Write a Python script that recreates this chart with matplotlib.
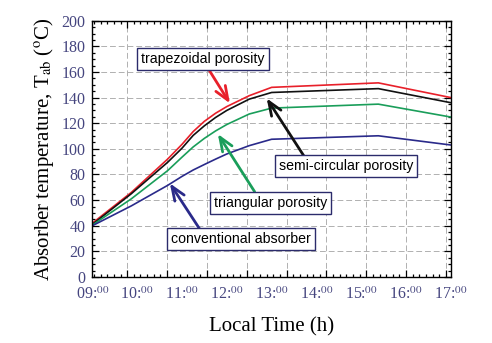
import numpy as np
import matplotlib
matplotlib.use("Agg")
import matplotlib.pyplot as plt
from matplotlib.ticker import MultipleLocator

plt.rcParams['font.family'] = ['Liberation Serif', 'DejaVu Serif']
plt.rcParams['mathtext.fontset'] = 'stix'

# time (h) and absorber temperature (degC)
hours = [9.0, 9.87, 10.68, 11.0, 11.25, 11.5, 11.75, 12.0, 12.5, 13.0, 15.38, 17.0]
trapezoidal = [42, 66, 92, 103.5, 113.5, 121.5, 127.8, 133, 141.5, 148, 151.5, 140]
semicircular = [41, 65, 89.5, 100.5, 110.5, 118, 124.5, 130, 138.8, 144, 147, 136]
triangular = [40.5, 61, 83, 93.5, 101.5, 108.2, 114, 119, 127.2, 131.8, 134.9, 124.8]
conventional = [40, 55.5, 71.5, 78.5, 83.5, 87.8, 92, 96, 102.5, 107.5, 110.2, 103]

hour_labels = [f"{h:02d}:" + r"$^{00}$" for h in range(9, 18)]

# annotation boxes: text, box centre, arrow tail, arrow head, arrow colour
notes = [
    ("trapezoidal porosity", (11.47, 170.3), (11.58, 162.9), (12.07, 135.5), '#e8202a'),
    ("semi-circular porosity", (14.66, 86.6), (13.73, 93.9), (12.89, 139.4), '#111111'),
    ("triangular porosity", (12.98, 57.9), (12.62, 66.6), (11.80, 111.6), '#1a9e5a'),
    ("conventional absorber", (12.31, 29.8), (11.40, 37.2), (10.73, 73.1), '#2a2a8a'),
]

fig = plt.figure(figsize=(4.92, 3.43), dpi=100)
ax = fig.add_axes([0.1876, 0.1924, 0.729, 0.7472])

# grid / tick system of the original: 9 equal divisions, 6 minor each
grid_step = 8 / 9
ax.set_xlim(9, 17)
ax.set_ylim(0, 200)
ax.xaxis.set_major_locator(MultipleLocator(grid_step))
ax.xaxis.set_minor_locator(MultipleLocator(grid_step / 6))
ax.yaxis.set_major_locator(MultipleLocator(20))
ax.yaxis.set_minor_locator(MultipleLocator(5))
ax.tick_params(axis='x', which='both', labelbottom=False)
ax.tick_params(which='both', direction='in', top=True, right=True, width=0.9)
ax.tick_params(which='major', length=5)
ax.tick_params(which='minor', length=2.5)
ax.tick_params(axis='y', labelsize=11.5, labelcolor='#45457f', pad=5)
ax.grid(True, which='major', color='#b0b0b0', ls=(0, (6, 3)), lw=0.7)
ax.set_axisbelow(True)
for s in ax.spines.values():
    s.set_linewidth(1.0)

# hour labels at even hour spacing
sec = ax.secondary_xaxis('bottom')
sec.set_xticks(range(9, 18), hour_labels)
sec.tick_params(length=0, labelsize=11.5, labelcolor='#45457f', pad=7)
sec.spines['bottom'].set_visible(False)

ax.plot(hours, trapezoidal, color='#e8202a', lw=1.2)
ax.plot(hours, semicircular, color='#111111', lw=1.2)
ax.plot(hours, triangular, color='#1a9e5a', lw=1.2)
ax.plot(hours, conventional, color='#2a2a8a', lw=1.2)

for text, centre, tail, head, col in notes:
    ax.annotate('', xy=head, xytext=tail,
                arrowprops=dict(arrowstyle='->,head_length=1.0,head_width=0.4',
                                color=col, lw=2, shrinkA=0, shrinkB=0))
    ax.text(centre[0], centre[1], text, ha='center', va='center', fontsize=10.2,
            family=['Liberation Sans', 'DejaVu Sans'],
            bbox=dict(boxstyle='square,pad=0.28', fc='white', ec='#2b2b6b', lw=1))

ax.set_ylabel(r'Absorber temperature, T$_{\mathrm{ab}}$ ($^{\mathrm{o}}$C)', fontsize=15, labelpad=4)
sec.set_xlabel('Local Time (h)', fontsize=15, labelpad=10)

fig.savefig('out.png', dpi=100)
